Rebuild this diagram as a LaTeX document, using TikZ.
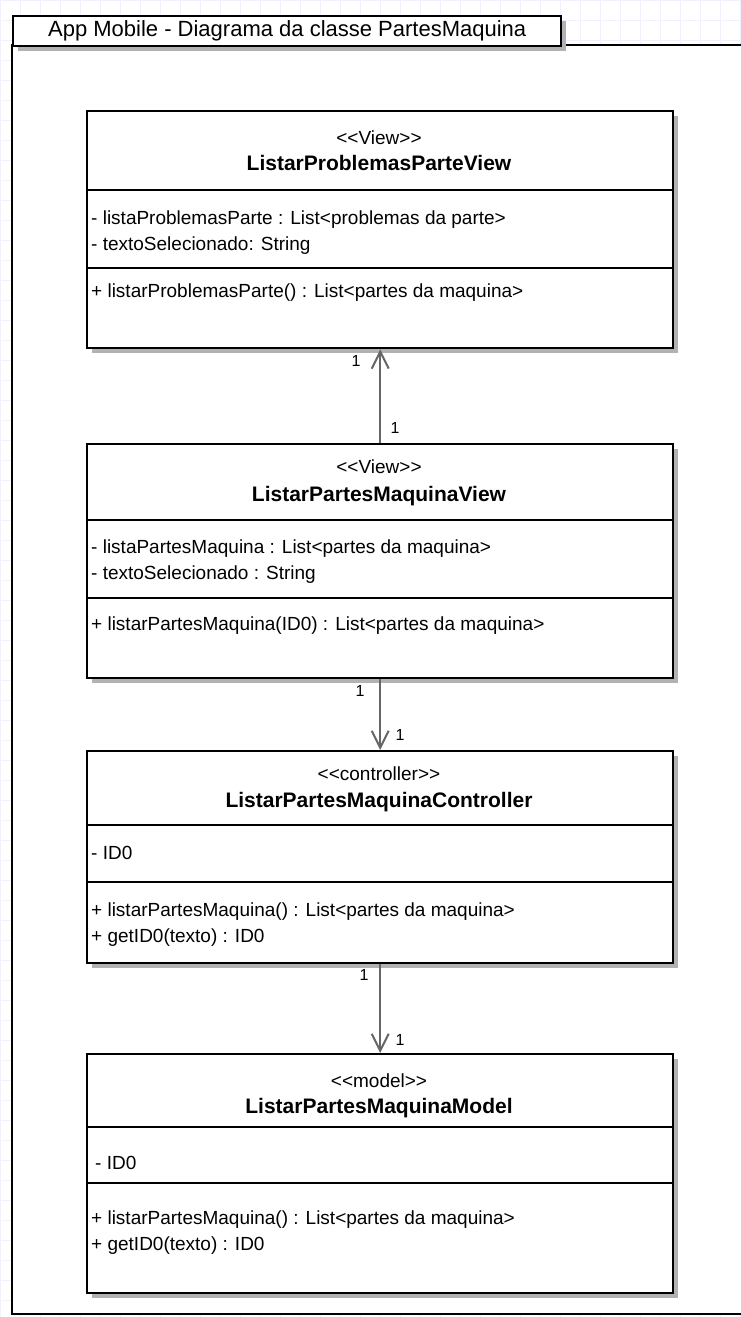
\documentclass[tikz,border=0pt]{standalone}
\usepackage{fontspec}
\setmainfont{Liberation Sans}[Ligatures=TeXOff]
\usetikzlibrary{arrows.meta,shadows}

\begin{document}
\begin{tikzpicture}[x=1pt,y=-1pt,
  boxshadow/.style={drop shadow={shadow xshift=5pt, shadow yshift=-5pt, fill=black!30, opacity=1}},
  classbox/.style={draw, line width=2.4pt, fill=white, anchor=north west, minimum width=586pt, inner sep=0pt, boxshadow},
  divider/.style={line width=2.4pt},
  stereo/.style={font=\fontsize{19}{22}\selectfont, anchor=base, inner sep=0pt},
  cname/.style={font=\fontsize{21}{24}\selectfont\bfseries, anchor=base, inner sep=0pt},
  members/.style={font=\fontsize{19}{26}\selectfont, anchor=north west, align=left, inner sep=0pt},
  assoc/.style={draw=black!60, line width=2pt, -{Straight Barb[length=17pt,width=17pt]}},
  mult/.style={font=\fontsize{16}{18}\selectfont, fill=white, inner sep=1pt},
]
\useasboundingbox (0,0) rectangle (740,1317);
\draw[blue!6, line width=0.8pt, step=20pt] (0,0) grid (740,1317);

% frame
\draw[line width=2.4pt, fill=white] (12,45) rectangle (800,1314);
\node[draw, line width=2.4pt, fill=white, anchor=north west, minimum width=548pt, minimum height=30pt, inner sep=0pt, font=\fontsize{22}{24}\selectfont, boxshadow] (tab) at (12,15) {App Mobile - Diagrama da classe PartesMaquina};

% ListarProblemasParteView
\node[classbox, minimum height=237pt] (pv) at (86,110) {};
\draw[divider] (pv.west |- 0,190) -- (pv.east |- 0,190);
\draw[divider] (pv.west |- 0,268) -- (pv.east |- 0,268);
\node[stereo] (pv-s) at (379,144) {<<View>>};
\node[cname] (pv-n) at (379,170) {ListarProblemasParteView};
\node[members] (pv-a) at (91,211) {- listaProblemasParte : List<problemas da parte>\\- textoSelecionado: String};
\node[members] (pv-o) at (91,284) {+ listarProblemasParte() : List<partes da maquina>};

% ListarPartesMaquinaView
\node[classbox, minimum height=234pt] (mv) at (86,443) {};
\draw[divider] (mv.west |- 0,520) -- (mv.east |- 0,520);
\draw[divider] (mv.west |- 0,598) -- (mv.east |- 0,598);
\node[stereo] (mv-s) at (379,473) {<<View>>};
\node[cname] (mv-n) at (379,501) {ListarPartesMaquinaView};
\node[members] (mv-a) at (91,540) {- listaPartesMaquina : List<partes da maquina>\\- textoSelecionado : String};
\node[members] (mv-o) at (91,617) {+ listarPartesMaquina(ID0) : List<partes da maquina>};

% ListarPartesMaquinaController
\node[classbox, minimum height=212pt] (mc) at (86,750) {};
\draw[divider] (mc.west |- 0,825) -- (mc.east |- 0,825);
\draw[divider] (mc.west |- 0,882) -- (mc.east |- 0,882);
\node[stereo] (mc-s) at (379,780) {<<controller>>};
\node[cname] (mc-n) at (379,807) {ListarPartesMaquinaController};
\node[members] (mc-a) at (91,846) {- ID0};
\node[members] (mc-o) at (91,903) {+ listarPartesMaquina() : List<partes da maquina>\\+ getID0(texto) : ID0};

% ListarPartesMaquinaModel
\node[classbox, minimum height=239pt] (mm) at (86,1053) {};
\draw[divider] (mm.west |- 0,1127) -- (mm.east |- 0,1127);
\draw[divider] (mm.west |- 0,1183) -- (mm.east |- 0,1183);
\node[stereo] (mm-s) at (379,1087) {<<model>>};
\node[cname] (mm-n) at (379,1113) {ListarPartesMaquinaModel};
\node[members] (mm-a) at (95,1156) {- ID0};
\node[members] (mm-o) at (91,1211) {+ listarPartesMaquina() : List<partes da maquina>\\+ getID0(texto) : ID0};

% associations
\draw[assoc] (mv.north) -- (pv.south);
\draw[assoc] (mv.south) -- (mc.north);
\draw[assoc] (mc.south) -- (mm.north);

\node[mult] (m1) at (356,361) {1};
\node[mult] (m2) at (395,428) {1};
\node[mult] (m3) at (360,691) {1};
\node[mult] (m4) at (400,735) {1};
\node[mult] (m5) at (364,975) {1};
\node[mult] (m6) at (400,1040) {1};
\end{tikzpicture}
\end{document}
